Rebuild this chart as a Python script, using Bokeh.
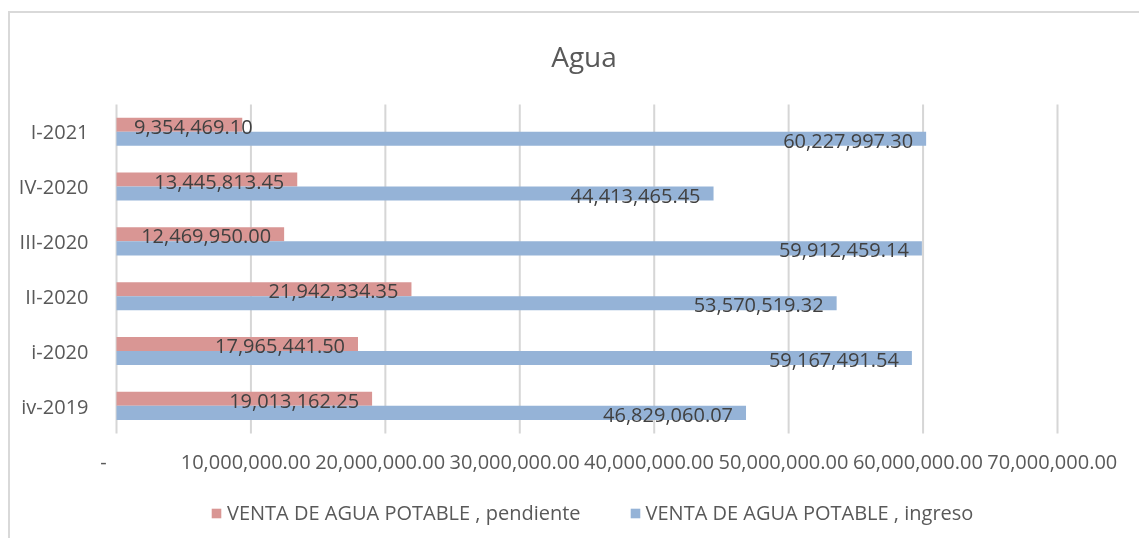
from bokeh.plotting import figure
from bokeh.models import (Range1d, ColumnDataSource, FixedTicker, CustomJSTickFormatter,
                          Legend, LegendItem, Label)
from bokeh.core.properties import value
from bokeh.embed import file_html
from bokeh.resources import INLINE

# ---- data (bottom to top, as drawn) ----
categories = ["iv-2019", "i-2020", "II-2020", "III-2020", "IV-2020", "I-2021"]
pendiente = [19013162.25, 17965441.50, 21942334.35, 12469950.00, 13445813.45, 9354469.10]
ingreso = [46829060.07, 59167491.54, 53570519.32, 59912459.14, 44413465.45, 60227997.30]
x_ticks = [0, 10e6, 20e6, 30e6, 40e6, 50e6, 60e6, 70e6]
title_text = "Agua"
series_names = ["VENTA DE AGUA POTABLE , pendiente", "VENTA DE AGUA POTABLE , ingreso"]

PINK = "#D99694"
BLUE = "#95B3D7"
FONT = "Open Sans"
GRAY = "#595959"
LABEL = "#404040"

# layout (pixels inside the chart box)
FW = 941                 # width of the 0..70M span
PL, PR = 20, 82          # extra frame pixels left / right of that span
BAND_TOP, BAND_BOT = 91, 420   # where the category bands lie
FH = 525                 # frame height (extends over title and legend area)
ML = 86
n = len(categories)
px_per_unit = (BAND_BOT - BAND_TOP) / n
y_end = n + BAND_TOP / px_per_unit
y_start = -(FH - BAND_BOT) / px_per_unit
XMAX = x_ticks[-1]
scale = FW / XMAX

p = figure(frame_width=FW + PL + PR, frame_height=FH,
           x_range=Range1d(-PL / scale, XMAX + PR / scale),
           y_range=Range1d(y_start, y_end),
           output_backend="svg", toolbar_location=None,
           min_border_left=ML, min_border_right=0, min_border_top=0, min_border_bottom=0)
p.styles = {"border-left": "2px solid #d9d9d9", "border-top": "2px solid #d9d9d9",
            "position": "fixed", "top": "11px", "left": "8px"}
p.outline_line_color = None

def label_offsets(vals, font_px=20):
    offs = []
    for v in vals:
        s = f"{v:,.2f}"
        est_w = sum(0.575 * font_px if c.isdigit() else 0.26 * font_px for c in s)
        bar_px = v * scale
        off = -13
        if bar_px - 13 - est_w < 17:
            off = 17 + est_w - bar_px
        offs.append(off)
    return offs

ypos = [i + 0.5 for i in range(n)]
src = ColumnDataSource(dict(
    y_p=[y + 0.132 for y in ypos],
    y_i=[y - 0.124 for y in ypos],
    pend=pendiente,
    ing=ingreso,
    pend_txt=[f"{v:,.2f}" for v in pendiente],
    ing_txt=[f"{v:,.2f}" for v in ingreso],
    pend_off=label_offsets(pendiente),
    ing_off=label_offsets(ingreso),
))

# vertical gridlines at the x ticks, spanning the category area
p.segment(x0=x_ticks, y0=[0] * len(x_ticks), x1=x_ticks, y1=[n] * len(x_ticks),
          line_color="#d6d6d6", line_width=2)

r_pend = p.hbar(y="y_p", right="pend", left=0, height=0.256,
                source=src, fill_color=PINK, line_color=None)
r_ing = p.hbar(y="y_i", right="ing", left=0, height=0.256,
               source=src, fill_color=BLUE, line_color=None)

p.text(x="pend", y="y_p", text="pend_txt", source=src,
       x_offset="pend_off", y_offset=2, text_align="right", text_baseline="middle",
       text_font=value(FONT), text_font_size="20px", text_color=LABEL)
p.text(x="ing", y="y_i", text="ing_txt", source=src,
       x_offset="ing_off", y_offset=2, text_align="right", text_baseline="middle",
       text_font=value(FONT), text_font_size="20px", text_color=LABEL)

# title
p.add_layout(Label(x=XMAX / 2, y=n + (BAND_TOP - 42) / px_per_unit, text=title_text,
                   x_offset=-3, text_align="center", text_baseline="middle",
                   text_font=FONT, text_font_size="28px", text_color=GRAY))

# x axis, drawn at the bottom of the category area
p.xaxis.fixed_location = 0
p.xaxis.ticker = FixedTicker(ticks=x_ticks)
p.xaxis.formatter = CustomJSTickFormatter(code="""
    if (tick == 0) { return '-\\u00a0\\u00a0\\u00a0\\u00a0\\u00a0'; }
    return tick.toLocaleString('en-US', {minimumFractionDigits: 2, maximumFractionDigits: 2}) + '\\u00a0\\u00a0';
""")
p.xaxis.axis_line_color = None
p.xaxis.major_tick_line_color = None
p.xaxis.minor_tick_line_color = None
p.xaxis.major_label_standoff = 8
p.xaxis.major_label_text_font = FONT
p.xaxis.major_label_text_font_size = "20px"
p.xaxis.major_label_text_color = GRAY

# y axis with category names
p.yaxis.ticker = FixedTicker(ticks=ypos)
p.yaxis.formatter = CustomJSTickFormatter(args=dict(cats=categories),
                                          code="return cats[Math.round(tick - 0.5)];")
p.yaxis.axis_line_color = None
p.yaxis.major_tick_line_color = None
p.yaxis.minor_tick_line_color = None
p.yaxis.major_label_standoff = 2
p.yaxis.major_label_text_font = FONT
p.yaxis.major_label_text_font_size = "20px"
p.yaxis.major_label_text_color = GRAY

p.xgrid.visible = False
p.ygrid.visible = False

legend = Legend(items=[LegendItem(label=series_names[0], renderers=[r_pend]),
                       LegendItem(label=series_names[1], renderers=[r_ing])],
                location=(PL + 94, 12), orientation="horizontal",
                glyph_width=12, glyph_height=12, label_standoff=5, spacing=48,
                padding=0, margin=0, border_line_color=None, background_fill_alpha=0,
                label_text_font=FONT, label_text_font_size="20px", label_text_color=GRAY,
                label_height=20)
p.add_layout(legend, "center")

open("out.html", "w").write(file_html(p, INLINE))
